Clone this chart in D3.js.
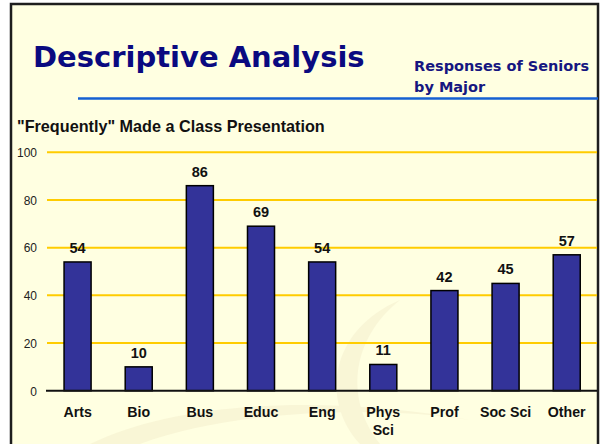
<!DOCTYPE html>
<html>
<head>
<meta charset="utf-8">
<script src="https://cdn.jsdelivr.net/npm/d3@7"></script>
<style>
  html, body { margin: 0; padding: 0; background: #ffffff; }
  svg { display: block; }
</style>
</head>
<body>
<svg id="chart" width="600" height="444"></svg>
<script>
// ---- data ----
const categories = ["Arts", "Bio", "Bus", "Educ", "Eng", "Phys Sci", "Prof", "Soc Sci", "Other"];
const categoryLines = [["Arts"], ["Bio"], ["Bus"], ["Educ"], ["Eng"], ["Phys", "Sci"], ["Prof"], ["Soc Sci"], ["Other"]];
const values = [54, 10, 86, 69, 54, 11, 42, 45, 57];
const yTicks = [0, 20, 40, 60, 80, 100];
const titleText = "Descriptive Analysis";
const subtitleLines = ["Responses of Seniors", "by Major"];
const chartTitle = "\"Frequently\" Made a Class Presentation";

// ---- drawing ----
const svg = d3.select("#chart");

// slide background + frame
svg.append("rect").attr("x", 0).attr("y", 0).attr("width", 600).attr("height", 444).attr("fill", "#ffffff");
svg.append("rect").attr("x", 11).attr("y", 4).attr("width", 587).attr("height", 450)
  .attr("fill", "#ffffe1").attr("stroke", "#1e1e1e").attr("stroke-width", 2.5);

// faint decorative swoosh
const deco = svg.append("g").attr("fill", "#efe6c4").attr("opacity", 0.35);
deco.append("path").attr("d", "M 90 444 C 180 400, 330 395, 470 420 C 380 405, 230 410, 140 444 Z");
deco.append("path").attr("d", "M 360 444 C 320 400, 330 330, 400 300 C 350 340, 345 400, 380 444 Z");

// title
svg.append("text").attr("x", 33).attr("y", 67.3)
  .attr("font-family", "'DejaVu Sans', Verdana, sans-serif").attr("font-weight", "bold")
  .attr("font-size", 29).attr("fill", "#0a0a80").text(titleText);

// subtitle
svg.append("g").selectAll("text").data(subtitleLines).join("text")
  .attr("x", 414).attr("y", (d, i) => 70.7 + i * 21)
  .attr("font-family", "'DejaVu Sans', Verdana, sans-serif").attr("font-weight", "bold")
  .attr("font-size", 14.5).attr("fill", "#161680").text(d => d);

// blue rule
svg.append("line").attr("x1", 78).attr("x2", 598).attr("y1", 98.5).attr("y2", 98.5)
  .attr("stroke", "#1560d2").attr("stroke-width", 2.5);

// chart title
svg.append("text").attr("x", 17).attr("y", 132.3)
  .attr("font-family", "'Liberation Sans', Arial, sans-serif").attr("font-weight", "bold")
  .attr("font-size", 16.2).attr("fill", "#111").text(chartTitle);

// scales
const x = d3.scaleBand().domain(categories).range([47, 597.3]).paddingInner(0.558).paddingOuter(0.279);
const y = d3.scaleLinear().domain([0, 100]).range([390.7, 152.3]);

// gridlines
svg.append("g").selectAll("line").data(yTicks.filter(t => t > 0)).join("line")
  .attr("x1", 47).attr("x2", 597).attr("y1", d => y(d)).attr("y2", d => y(d))
  .attr("stroke", "#ffcc00").attr("stroke-width", 2);

// y axis labels
const yAxis = svg.append("g").attr("transform", "translate(37,0)")
  .call(d3.axisLeft(y).tickValues(yTicks).tickSize(0).tickPadding(0).tickFormat(d3.format("d")));
yAxis.select(".domain").remove();
yAxis.selectAll("text").attr("font-family", "'Liberation Sans', Arial, sans-serif")
  .attr("font-size", 12).attr("fill", "#222").attr("dy", "0.36em");

// bars
svg.append("g").selectAll("rect").data(values).join("rect")
  .attr("x", (d, i) => x(categories[i]))
  .attr("y", d => y(d))
  .attr("width", x.bandwidth())
  .attr("height", d => y(0) - y(d))
  .attr("fill", "#333399").attr("stroke", "#000").attr("stroke-width", 1.5);

// zero line
svg.append("line").attr("x1", 46).attr("x2", 597).attr("y1", y(0)).attr("y2", y(0))
  .attr("stroke", "#111").attr("stroke-width", 2);

// value labels
svg.append("g").selectAll("text").data(values).join("text")
  .attr("x", (d, i) => x(categories[i]) + x.bandwidth() / 2)
  .attr("y", d => y(d) - 9)
  .attr("text-anchor", "middle")
  .attr("font-family", "'Liberation Sans', Arial, sans-serif").attr("font-weight", "bold")
  .attr("font-size", 14.5).attr("fill", "#111").text(d => d);

// category labels via axis
const xAxis = svg.append("g").attr("transform", `translate(0,${y(0)})`)
  .call(d3.axisBottom(x).tickSize(0).tickFormat(""));
xAxis.select(".domain").remove();
xAxis.selectAll(".tick").each(function(d) {
  const lines = categoryLines[categories.indexOf(d)];
  const t = d3.select(this).append("text")
    .attr("text-anchor", "middle")
    .attr("font-family", "'Liberation Sans', Arial, sans-serif").attr("font-weight", "bold")
    .attr("font-size", 14.2).attr("fill", "#111");
  lines.forEach((ln, i) => {
    t.append("tspan").attr("x", 0).attr("y", 26 + i * 18).text(ln);
  });
});
</script>
</body>
</html>
